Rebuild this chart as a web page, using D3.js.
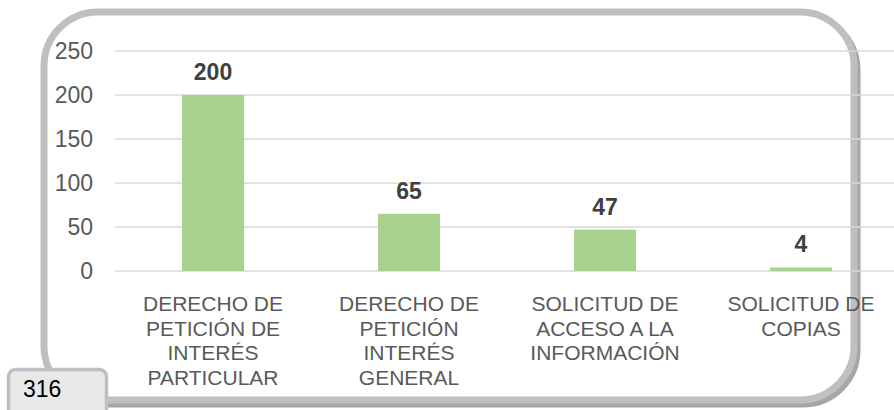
<!DOCTYPE html>
<html>
<head>
<meta charset="utf-8">
<script src="https://cdn.jsdelivr.net/npm/d3@7"></script>
<style>
  html, body { margin: 0; padding: 0; background: #fff; }
  svg { display: block; font-family: Arial, "Liberation Sans", sans-serif; }
</style>
</head>
<body>
<div id="chart"></div>
<script>
const categories = [
    ["DERECHO DE", "PETICIÓN DE", "INTERÉS", "PARTICULAR"],
    ["DERECHO DE", "PETICIÓN", "INTERÉS", "GENERAL"],
    ["SOLICITUD DE", "ACCESO A LA", "INFORMACIÓN"],
    ["SOLICITUD DE", "COPIAS"]
];
const values = [200, 65, 47, 4];
const yTicks = [0, 50, 100, 150, 200, 250];
const totalLabel = "316";

const width = 894, height = 410;
const margin = { top: 51, right: -5, bottom: 139, left: 115 };

const svg = d3.select("#chart").append("svg")
    .attr("width", width)
    .attr("height", height);

// rounded frame behind the chart (shadow first, then the frame)
const frame = { x: 44, y: 12, w: 810, h: 388, r: 54 };
svg.append("rect")
    .attr("x", frame.x + 3).attr("y", frame.y + 4)
    .attr("width", frame.w).attr("height", frame.h)
    .attr("rx", frame.r)
    .attr("fill", "none")
    .attr("stroke", "#a6a6a6")
    .attr("stroke-width", 7);
svg.append("rect")
    .attr("x", frame.x).attr("y", frame.y)
    .attr("width", frame.w).attr("height", frame.h)
    .attr("rx", frame.r)
    .attr("fill", "#fff")
    .attr("stroke", "#bfbfbf")
    .attr("stroke-width", 7);

const x = d3.scaleBand()
    .domain(d3.range(categories.length))
    .range([margin.left, width - margin.right])
    .paddingInner(0.684)
    .paddingOuter(0.342);

const y = d3.scaleLinear()
    .domain([0, 250])
    .range([height - margin.bottom, margin.top]);

// gridlines
svg.append("g")
    .selectAll("line")
    .data(yTicks)
    .join("line")
    .attr("x1", margin.left)
    .attr("x2", width)
    .attr("y1", d => y(d))
    .attr("y2", d => y(d))
    .attr("stroke", "#d9d9d9")
    .attr("stroke-width", 1.5);

// y axis labels
const yAxis = svg.append("g")
    .attr("transform", `translate(${margin.left - 22}, 0)`)
    .call(d3.axisLeft(y).tickValues(yTicks).tickSize(0).tickPadding(0));
yAxis.select(".domain").remove();
yAxis.selectAll("text")
    .attr("font-family", "Arial, 'Liberation Sans', sans-serif")
    .attr("font-size", 23)
    .attr("fill", "#595959");

// bars
svg.append("g")
    .selectAll("rect")
    .data(values)
    .join("rect")
    .attr("x", (d, i) => x(i))
    .attr("y", d => y(d))
    .attr("width", x.bandwidth())
    .attr("height", d => y(0) - y(d))
    .attr("fill", "#a9d18e");

// value labels
svg.append("g")
    .selectAll("text")
    .data(values)
    .join("text")
    .attr("x", (d, i) => x(i) + x.bandwidth() / 2)
    .attr("y", d => y(d) - 15)
    .attr("text-anchor", "middle")
    .attr("font-size", 23)
    .attr("font-weight", "bold")
    .attr("fill", "#404040")
    .text(d => d);

// category labels
const xAxis = svg.append("g")
    .attr("transform", `translate(0, ${y(0)})`)
    .call(d3.axisBottom(x).tickSize(0).tickFormat(""));
xAxis.select(".domain").remove();
xAxis.selectAll(".tick").each(function(i) {
    const t = d3.select(this).append("text")
        .attr("text-anchor", "middle")
        .attr("font-size", 21)
        .attr("fill", "#595959")
        .attr("y", 40);
    categories[i].forEach((line, k) => {
        t.append("tspan")
            .attr("x", 0)
            .attr("dy", k ? 24.6 : 0)
            .text(line);
    });
});

// total box
svg.append("rect")
    .attr("x", 8.5).attr("y", 369.5)
    .attr("width", 98).attr("height", 50)
    .attr("rx", 7)
    .attr("fill", "#e8e8e8")
    .attr("stroke", "#bfbfbf")
    .attr("stroke-width", 3.5);
svg.append("text")
    .attr("x", 23).attr("y", 397)
    .attr("font-size", 23)
    .attr("fill", "#000")
    .text(totalLabel);
</script>
</body>
</html>
